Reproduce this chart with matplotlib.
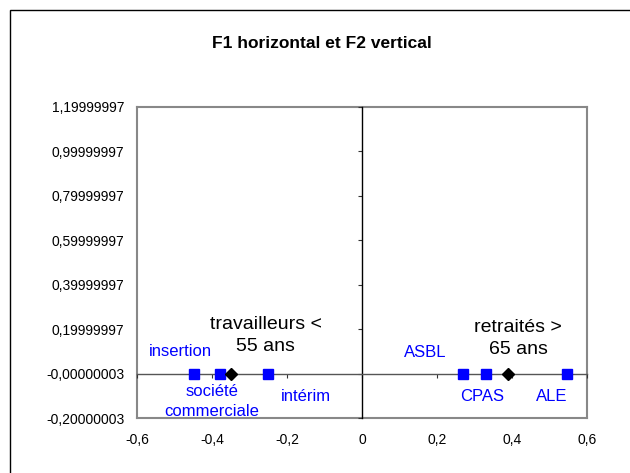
import numpy as np
import matplotlib
matplotlib.use('Agg')
import matplotlib.pyplot as plt
from matplotlib.patches import Rectangle

plt.rcParams['font.family'] = ['Liberation Sans', 'DejaVu Sans']

# donnees
mod_x = [-0.447, -0.379, -0.25, 0.27, 0.331, 0.546]
mod_y = [0, 0, 0, 0, 0, 0]
mod_lab = ['insertion', 'société\ncommerciale', 'intérim', 'ASBL', 'CPAS', 'ALE']
grp_x = [-0.35, 0.39]
grp_y = [0, 0]
grp_lab = ['travailleurs <\n55 ans', 'retraités >\n65 ans']

x_ticks = [-0.6, -0.4, -0.2, 0, 0.2, 0.4, 0.6]
x_tick_lab = ['-0,6', '-0,4', '-0,2', '0', '0,2', '0,4', '0,6']
y_ticks = [-0.20000003, -0.00000003, 0.19999997, 0.39999997,
           0.59999997, 0.79999997, 0.99999997, 1.19999997]
y_tick_lab = ['-0,20000003', '-0,00000003', '0,19999997', '0,39999997',
              '0,59999997', '0,79999997', '0,99999997', '1,19999997']

# decalages des etiquettes (pixels)
mod_off = [(-14, 22), (-8, -28), (38, -23), (-38, 21), (-4, -23), (-15, -23)]
grp_off = [(35, 38), (10, 35)]

W, H = 630, 473
fig = plt.figure(figsize=(W / 100, H / 100), dpi=100)
rect = [137 / W, 1 - 418 / H, (587 - 137) / W, (418 - 107) / H]

# cadre avec les etiquettes
axf = fig.add_axes(rect)
axf.set_xlim(x_ticks[0], x_ticks[-1])
axf.set_ylim(y_ticks[0], y_ticks[-1])
axf.set_xticks(x_ticks, x_tick_lab)
axf.set_yticks(y_ticks, y_tick_lab)
axf.tick_params(length=0, labelsize=10, pad=9)
axf.tick_params(axis='x', pad=11)
for s in axf.spines.values():
    s.set_color('#888888')
    s.set_linewidth(1.5)

# axes au zero
ax = fig.add_axes(rect)
ax.patch.set_visible(False)
ax.set_xlim(x_ticks[0], x_ticks[-1])
ax.set_ylim(y_ticks[0], y_ticks[-1])
ax.set_xticks(x_ticks)
ax.set_yticks(y_ticks)
ax.spines['top'].set_visible(False)
ax.spines['right'].set_visible(False)
ax.spines['left'].set_position(('data', 0))
ax.spines['bottom'].set_position(('data', 0))
ax.spines['left'].set_color('black')
ax.spines['bottom'].set_color('#555555')
ax.spines['left'].set_linewidth(1)
ax.spines['bottom'].set_linewidth(1)
ax.tick_params(labelleft=False, labelbottom=False, direction='out', length=3, color='#333333')

ax.plot(mod_x, mod_y, 's', color='blue', markersize=7, zorder=5, clip_on=False)
ax.plot(grp_x, grp_y, 'D', color='black', markersize=6, zorder=6, clip_on=False)

for x, y, t, o in zip(mod_x, mod_y, mod_lab, mod_off):
    ax.annotate(t, (x, y), xytext=o, textcoords='offset pixels', ha='center', va='center',
                color='blue', fontsize=12, linespacing=1.35)
for x, y, t, o in zip(grp_x, grp_y, grp_lab, grp_off):
    ax.annotate(t, (x, y), xytext=o, textcoords='offset pixels', ha='center', va='center',
                color='black', fontsize=14, linespacing=1.4)

fig.text(322 / W, 1 - 44 / H, 'F1 horizontal et F2 vertical', ha='center', va='center',
         fontsize=12.5, fontweight='bold')

# bordure du graphique
fig.patches.append(Rectangle((9.5 / W, -0.1), 2, 1 - 10.5 / H + 0.1, transform=fig.transFigure,
                             fill=False, edgecolor='black', linewidth=1))

fig.savefig('out.png', dpi=100)
